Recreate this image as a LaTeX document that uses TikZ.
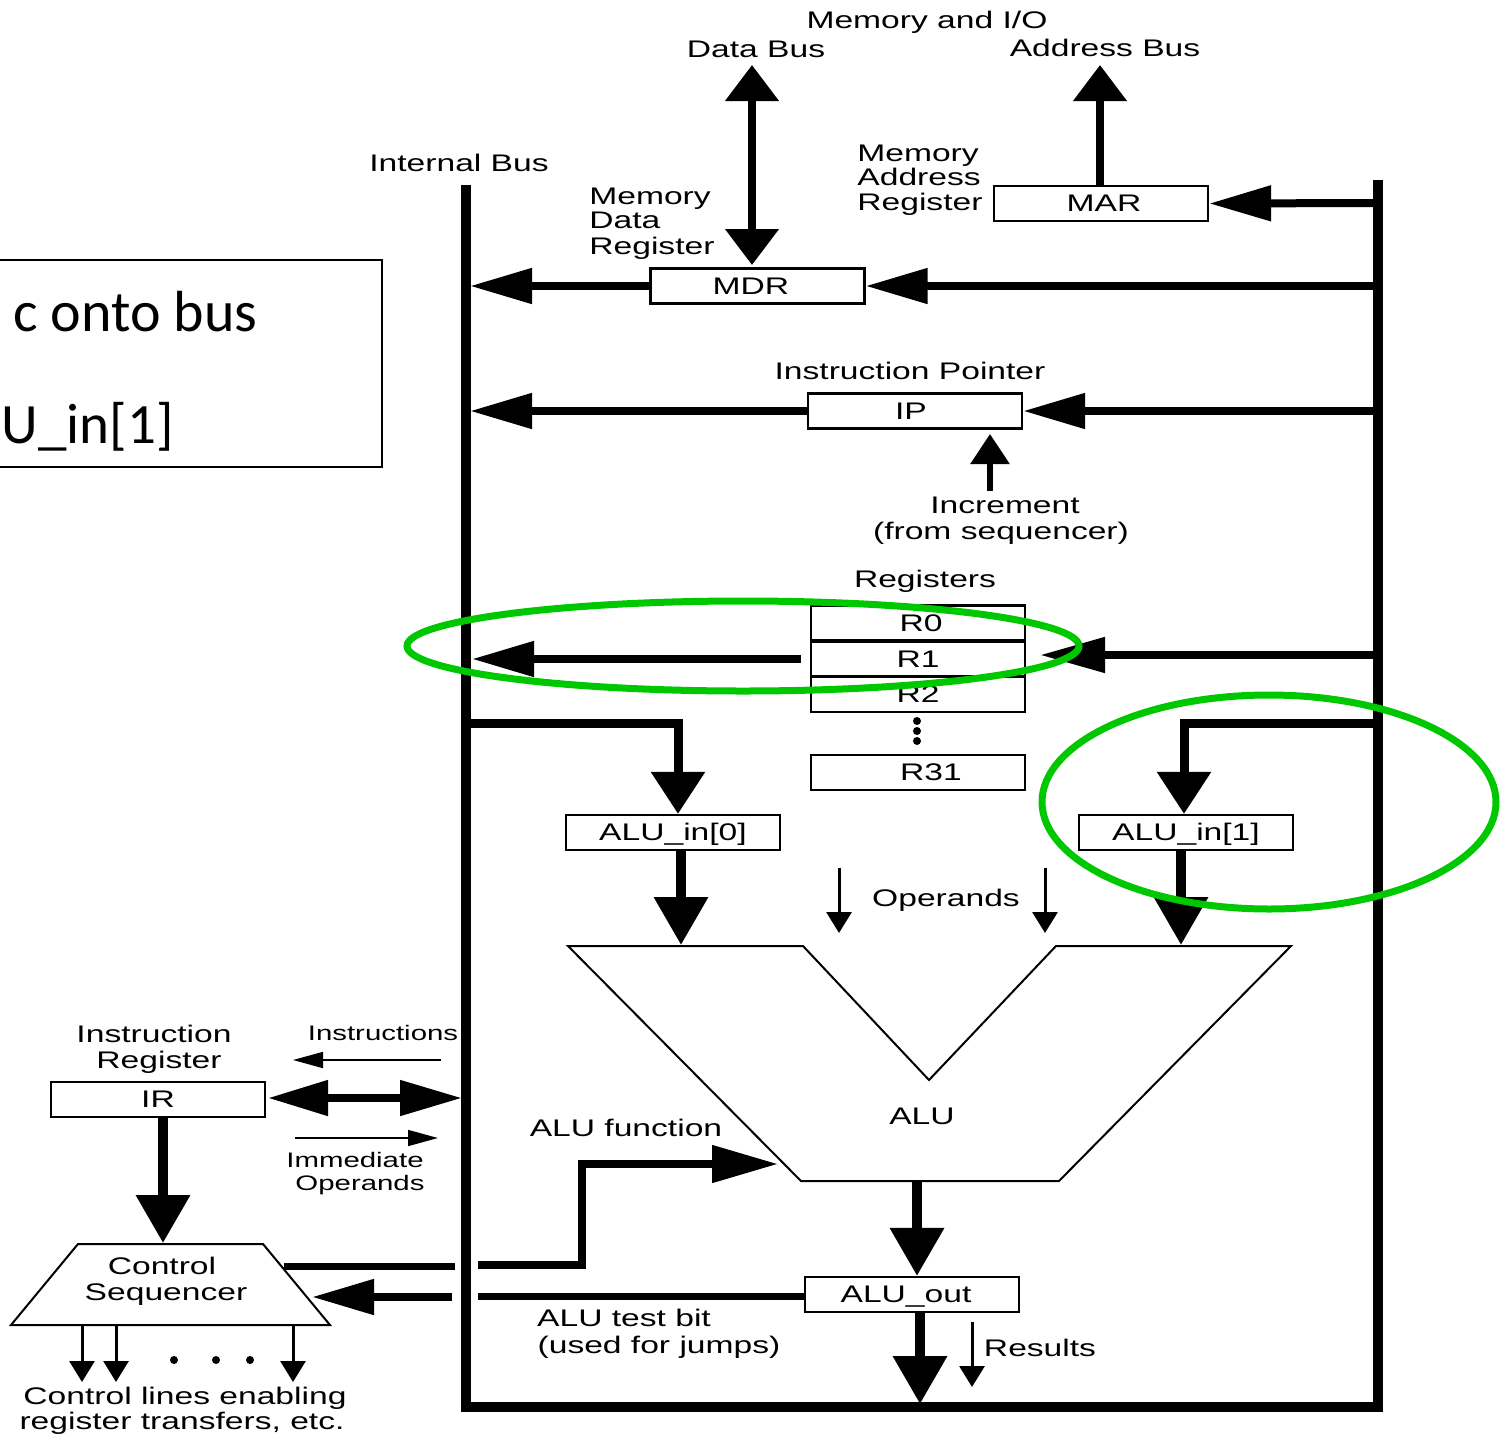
\documentclass[tikz,border=0pt]{standalone}
\usepackage{fontspec}
\setmainfont[FakeStretch=1.4]{Liberation Sans}
\newfontfamily\callfont{Carlito}
\usetikzlibrary{arrows.meta}
\definecolor{ringgreen}{RGB}{0,200,0}
\tikzset{
  regbox/.style={draw=black,fill=white,line width=1.1pt,inner sep=0pt,minimum width=107pt,minimum height=17.5pt,text height=10.5pt,text depth=2.5pt,font=\fontsize{12}{12}\selectfont},
  lab/.style={inner sep=0pt,text height=10.5pt,text depth=2.5pt,font=\fontsize{12}{12}\selectfont},
  smalllab/.style={inner sep=0pt,text height=9pt,text depth=2pt,font=\fontsize{10.5}{10.5}\selectfont},
  hd/.style={line width=4pt,-{Triangle[length=31pt,width=17pt]}},
  hdv/.style={line width=5pt,-{Triangle[length=24pt,width=26pt]}},
  thinarr/.style={line width=1.5pt,-{Triangle[length=10.5pt,width=12.5pt]}},
  hair/.style={line width=.8pt,-{Triangle[length=15pt,width=8pt]}},
  ring/.style={draw=ringgreen,line width=3.5pt},
  dot/.style={circle,fill=black,inner sep=0pt,minimum size=4pt}
}
\begin{document}
\begin{tikzpicture}[x=0.5pt,y=-0.5pt]
\useasboundingbox (0,0) rectangle (1500,1436);
\clip (0,0) rectangle (1500,1436);
% callout
\node[draw=black,line width=1.2pt,minimum width=206pt,minimum height=103.5pt,inner sep=0pt] (callout) at (176,363.5) {};
\node[anchor=base east,inner sep=0pt,font=\callfont\fontsize{29}{29}\selectfont] (callA) at (258,331) {c onto bus};
\node[anchor=base east,inner sep=0pt,font=\callfont\fontsize{28.5}{28.5}\selectfont] (callB) at (174,443) {U\_in[1]};
% buses
\draw[line width=5pt,line join=miter] (466,185) -- (466,1407) -- (1378,1407) -- (1378,180);
% free ends
\coordinate (dataTop) at (752,65);
\coordinate (dataBot) at (752,265);
\coordinate (addrTop) at (1100,65);
\coordinate (marR) at (1378,203);
\coordinate (mdrR) at (1378,286);
\coordinate (mdrL) at (470,286);
\coordinate (ipR) at (1378,411);
\coordinate (ipL) at (470,411);
\coordinate (incFrom) at (990,491);
\coordinate (incTo) at (990,434);
\coordinate (r1From) at (801,659);
\coordinate (r1L) at (472,659);
\coordinate (regR) at (1378,655);
\coordinate (regTip) at (1040,655);
\coordinate (alu0A) at (471,723);
\coordinate (alu0B) at (678,723);
\coordinate (alu1A) at (1378,723);
\coordinate (alu1B) at (1184,723);
\coordinate (aluTopL) at (681,945);
\coordinate (aluTopR) at (1181,945);
\coordinate (aluBotC) at (917,1181);
\coordinate (busBot) at (920,1404);
% boxes
\node[regbox] (mar) at (1101,203.5) {\hspace{3pt}MAR};
\node[regbox] (mdr) at (757.5,286) {MDR\hspace{6.5pt}\null};
\node[regbox] (ip) at (915,411) {IP\hspace{4pt}\null};
\node[regbox] (r0) at (918,623) {\hspace{3pt}R0};
\node[regbox] (r1) at (918,659) {R1};
\node[regbox] (r2) at (918,694.5) {R2};
\node[regbox] (r31) at (918,772.5) {\hspace{13pt}R31};
\node[regbox] (aluin0) at (673,832.5) {ALU\_in[0]};
\node[regbox] (aluin1) at (1186,832.5) {ALU\_in[1]};
\node[regbox] (ir) at (158,1099.5) {IR};
\node[regbox] (aluout) at (912,1294.5) {ALU\_out\hspace{6pt}\null};
% ALU
\draw[line width=1pt,fill=white] (568,946) -- (803,946) -- (929,1080) -- (1056,946) -- (1291,946) -- (1059,1181) -- (801,1181) -- cycle;
\node[lab] (alulab) at (922,1116) {ALU};
% Sequencer
\draw[line width=1pt,fill=white] (78,1244) -- (263,1244) -- (330,1325) -- (11,1325) -- cycle;
\node[lab] (seq1) at (162,1266) {Control};
\node[lab] (seq2) at (166,1292) {Sequencer};
\coordinate (seqTop) at (163,1243);
\coordinate (seqOut) at (284,1266);
\coordinate (seqIn) at (312,1297);
\coordinate (gapA) at (455,1266);
\coordinate (gapB) at (478,1265);
\coordinate (bendA) at (582,1265);
\coordinate (bendB) at (582,1164);
\coordinate (aluFn) at (778,1164);
\coordinate (testA) at (478,1296);
\coordinate (testB) at (452,1297);
\coordinate (irR) at (462,1098);
\coordinate (irL) at (268,1098);
\coordinate (instA) at (441,1060);
\coordinate (instB) at (293,1060);
\coordinate (immA) at (295,1138);
\coordinate (immB) at (438,1138);
\coordinate (op1A) at (839,868);
\coordinate (op1B) at (839,933);
\coordinate (op2A) at (1045,868);
\coordinate (op2B) at (1045,933);
\coordinate (resA) at (972,1322);
\coordinate (resB) at (972,1387);
\coordinate (c1A) at (82,1325);
\coordinate (c1B) at (82,1382);
\coordinate (c2A) at (116,1325);
\coordinate (c2B) at (116,1382);
\coordinate (c3A) at (293,1325);
\coordinate (c3B) at (293,1382);
% connectors
\draw[line width=4pt,{Triangle[length=18pt,width=26pt]}-{Triangle[length=18pt,width=26pt]}] (dataTop) -- (dataBot);
\draw[line width=4pt,-{Triangle[length=18pt,width=26pt]}] (mar.north -| addrTop) -- (addrTop);
\draw[hd] (marR) -- (mar.east);
\draw[hd] (mdrR) -- (mdr.east);
\draw[hd] (mdr.west) -- (mdrL);
\draw[hd] (ipR) -- (ip.east);
\draw[hd] (ip.west) -- (ipL);
\draw[line width=3pt,-{Triangle[length=15pt,width=19pt]}] (incFrom) -- (incTo);
\draw[hd] (r1From) -- (r1L);
\draw[line width=4pt,-{Triangle[length=32.5pt,width=17pt]}] (regR) -- (regTip);
\draw[line width=4.5pt,line join=miter,-{Triangle[length=21pt,width=26pt]}] (alu0A) -- (alu0B) -- (aluin0.north -| alu0B);
\draw[line width=4.5pt,line join=miter,-{Triangle[length=21pt,width=26pt]}] (alu1A) -- (alu1B) -- (aluin1.north -| alu1B);
\draw[hdv] (aluin0.south -| aluTopL) -- (aluTopL);
\draw[hdv] (aluin1.south -| aluTopR) -- (aluTopR);
\draw[thinarr] (op1A) -- (op1B);
\draw[thinarr] (op2A) -- (op2B);
\draw[hdv] (aluBotC) -- (aluout.north -| aluBotC);
\draw[hdv] (aluout.south -| busBot) -- (busBot);
\draw[thinarr] (resA) -- (resB);
\draw[line width=4pt,{Triangle[length=30pt,width=17pt]}-{Triangle[length=31pt,width=17pt]}] (irL) -- (irR);
\draw[hair] (instA) -- (instB);
\draw[hair] (immA) -- (immB);
\draw[hdv] (ir.south -| seqTop) -- (seqTop);
\draw[line width=3.5pt] (seqOut) -- (gapA);
\draw[line width=4pt,line join=miter,-{Triangle[length=33pt,width=18pt]}] (gapB) -- (bendA) -- (bendB) -- (aluFn);
\draw[line width=3.5pt] (aluout.west |- testA) -- (testA);
\draw[hd] (testB) -- (seqIn);
\draw[thinarr] (c1A) -- (c1B);
\draw[thinarr] (c2A) -- (c2B);
\draw[thinarr] (c3A) -- (c3B);
% dots
\node[dot] (d1) at (174,1360) {};
\node[dot] (d2) at (216,1360) {};
\node[dot] (d3) at (250,1360) {};
\node[dot] (d4) at (917,721) {};
\node[dot] (d5) at (917,731) {};
\node[dot] (d6) at (917,741) {};
% labels
\node[lab] (t1) at (927,20) {Memory and I/O};
\node[lab] (t2) at (756,49) {Data Bus};
\node[lab] (t3) at (1105,48) {Address Bus};
\node[lab] (t4) at (459,163) {Internal Bus};
\node[lab,anchor=west] (t5) at (589,196) {Memory};
\node[lab,anchor=west] (t6) at (589,220) {Data};
\node[lab,anchor=west] (t7) at (589,246) {Register};
\node[lab,anchor=west] (t8) at (857,153) {Memory};
\node[lab,anchor=west] (t9) at (857,177) {Address};
\node[lab,anchor=west] (t10) at (857,202) {Register};
\node[lab] (t11) at (910,371) {Instruction Pointer};
\node[lab] (t12) at (1005,505) {Increment};
\node[lab] (t13) at (1001,531) {(from sequencer)};
\node[lab] (t14) at (925,579) {Registers};
\node[lab] (t15) at (946,898) {Operands};
\node[lab] (t16) at (1040,1348) {Results};
\node[lab] (t17) at (624,1318) {ALU test bit};
\node[lab] (t18) at (659,1345) {(used for jumps)};
\node[lab] (t19) at (626,1128) {ALU function};
\node[lab] (t20) at (154,1034) {Instruction};
\node[lab] (t21) at (159,1060) {Register};
\node[smalllab] (t22) at (383,1033) {Instructions};
\node[smalllab] (t23) at (355,1160) {Immediate};
\node[smalllab] (t24) at (360,1183) {Operands};
\node[lab] (t25) at (185,1396) {Control lines enabling};
\node[lab] (t26) at (182,1421) {register transfers, etc.};
% green rings
\draw[ring] (743,646) ellipse [x radius=336,y radius=45];
\draw[ring] (1269,802) ellipse [x radius=227,y radius=107];
\end{tikzpicture}
\end{document}
